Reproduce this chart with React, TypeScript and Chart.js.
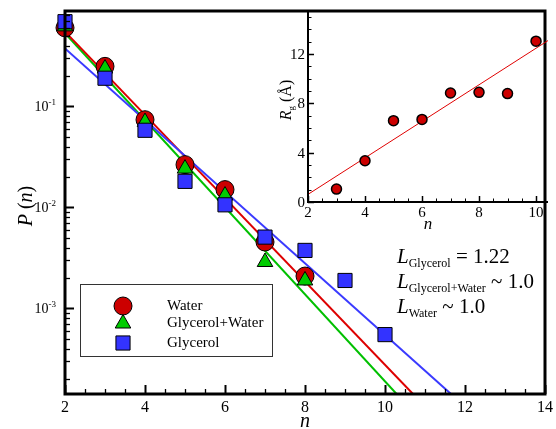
import React, { useEffect, useRef } from 'react';
import { Chart, registerables } from 'chart.js';
Chart.register(...registerables);

// ---- main chart data ----
const waterN = [2, 3, 4, 5, 6, 7, 8];
const waterP = [0.6, 0.249, 0.0738, 0.0265, 0.015, 0.00454, 0.00209];
const glyWaterN = [2, 3, 4, 5, 6, 7, 8];
const glyWaterP = [0.62, 0.237, 0.07, 0.0242, 0.0131, 0.00288, 0.00189];
const glycerolN = [2, 3, 4, 5, 6, 7, 8, 9, 10];
const glycerolP = [0.69, 0.19, 0.058, 0.0181, 0.0106, 0.00508, 0.00375, 0.00189, 0.00055];

const waterFitN = [2, 10.7];
const waterFitP = [0.55, 1.42e-4];
const glyWaterFitN = [2, 10.29];
const glyWaterFitP = [0.53, 1.42e-4];
const glycerolFitN = [2, 11.65];
const glycerolFitP = [0.375, 1.42e-4];

const xTicks = [2, 4, 6, 8, 10, 12, 14];
const yDecades = [-1, -2, -3];
const legendLabels = ['Water', 'Glycerol+Water', 'Glycerol'];

// ---- inset data ----
const insetN = [3, 4, 5, 6, 7, 8, 9, 10];
const insetRg = [1.05, 3.35, 6.6, 6.7, 8.85, 8.9, 8.8, 13.05];
const insetFitN = [2, 10.42];
const insetFitRg = [0.62, 13.1];
const insetXTicks = [2, 4, 6, 8, 10];
const insetYTicks = [0, 4, 8, 12];

const SERIF = '"Liberation Serif", "Times New Roman", serif';
const RED = '#cc0000';
const GREEN = '#00cc00';
const BLUE = '#3333ff';

const pts = (xs: number[], ys: number[]) => xs.map((x, i) => ({ x, y: ys[i] }));

type Part = { t: string; f: string; dy?: number };
function drawParts(ctx: CanvasRenderingContext2D, parts: Part[], x: number, y: number, align: 'left' | 'right' | 'center') {
  let total = 0;
  for (const p of parts) { ctx.font = p.f; total += ctx.measureText(p.t).width; }
  let cx = align === 'left' ? x : align === 'right' ? x - total : x - total / 2;
  ctx.textAlign = 'left';
  ctx.textBaseline = 'alphabetic';
  for (const p of parts) {
    ctx.font = p.f;
    ctx.fillText(p.t, cx, y + (p.dy || 0));
    cx += ctx.measureText(p.t).width;
  }
}

function drawMarker(ctx: CanvasRenderingContext2D, kind: string, x: number, y: number, r: number, fill: string) {
  ctx.beginPath();
  if (kind === 'circle') ctx.arc(x, y, r, 0, Math.PI * 2);
  else if (kind === 'triangle') {
    for (let i = 0; i < 3; i++) {
      const a = -Math.PI / 2 + i * (2 * Math.PI / 3);
      const px = x + Math.cos(a) * r, py = y + Math.sin(a) * r;
      if (i === 0) ctx.moveTo(px, py); else ctx.lineTo(px, py);
    }
    ctx.closePath();
  } else {
    const s = r / Math.SQRT2;
    ctx.rect(x - s, y - s, 2 * s, 2 * s);
  }
  ctx.fillStyle = fill;
  ctx.fill();
  ctx.lineWidth = 1;
  ctx.strokeStyle = '#000';
  ctx.stroke();
}

const mainPlugin = {
  id: 'mainDecor',
  afterDatasetsDraw(chart: any) {
    const ctx: CanvasRenderingContext2D = chart.ctx;
    const ca = chart.chartArea;
    const xs = chart.scales.x;
    const ys = chart.scales.y;
    ctx.save();
    ctx.strokeStyle = '#000';
    ctx.fillStyle = '#000';
    // x ticks
    for (let v = xs.min; v <= xs.max + 1e-9; v += 0.5) {
      const px = Math.round(xs.getPixelForValue(v)) + 0.5;
      const major = Math.abs(v % 2) < 1e-9;
      ctx.lineWidth = major ? 2 : 1.3;
      ctx.beginPath();
      ctx.moveTo(px, ca.bottom);
      ctx.lineTo(px, ca.bottom - (major ? 9 : 5));
      ctx.stroke();
    }
    // y ticks
    for (let d = -5; d <= 0; d++) {
      for (let m = 1; m <= 9; m++) {
        const val = m * Math.pow(10, d);
        if (val < ys.min || val > ys.max) continue;
        const py = Math.round(ys.getPixelForValue(val)) + 0.5;
        ctx.lineWidth = m === 1 ? 2 : 1.3;
        ctx.beginPath();
        ctx.moveTo(ca.left, py);
        ctx.lineTo(ca.left + (m === 1 ? 9 : 5), py);
        ctx.stroke();
      }
    }
    // frame
    ctx.lineWidth = 3;
    ctx.strokeRect(ca.left, ca.top, ca.right - ca.left, ca.bottom - ca.top);
    // x tick labels
    ctx.font = `16px ${SERIF}`;
    ctx.textAlign = 'center';
    ctx.textBaseline = 'alphabetic';
    for (const t of xTicks) {
      ctx.fillText(String(t), xs.getPixelForValue(t), ca.bottom + 18);
    }
    // y tick labels
    for (const d of yDecades) {
      const py = ys.getPixelForValue(Math.pow(10, d));
      drawParts(ctx, [
        { t: '10', f: `14px ${SERIF}` },
        { t: String(d), f: `9px ${SERIF}`, dy: -6 },
      ], ca.left - 9, py + 5, 'right');
    }
    // x title
    ctx.textAlign = 'center';
    ctx.font = `italic 20px ${SERIF}`;
    ctx.fillText('n', (ca.left + ca.right) / 2, 427);
    // y title
    ctx.save();
    ctx.translate(32, 206);
    ctx.rotate(-Math.PI / 2);
    drawParts(ctx, [
      { t: 'P', f: `italic 20px ${SERIF}` },
      { t: ' (', f: `20px ${SERIF}` },
      { t: 'n', f: `italic 20px ${SERIF}` },
      { t: ')', f: `20px ${SERIF}` },
    ], 0, 0, 'center');
    ctx.restore();
    // legend
    ctx.lineWidth = 1;
    ctx.strokeStyle = '#333';
    ctx.strokeRect(80.5, 284.5, 192, 72);
    const kinds = ['circle', 'triangle', 'rect'];
    const fills = [RED, GREEN, BLUE];
    const radii = [9, 9, 10];
    const rows = [306, 323.5, 343];
    for (let i = 0; i < 3; i++) {
      drawMarker(ctx, kinds[i], 123, rows[i], radii[i], fills[i]);
      ctx.fillStyle = '#000';
      ctx.font = `15px ${SERIF}`;
      ctx.textAlign = 'left';
      ctx.textBaseline = 'middle';
      ctx.fillText(legendLabels[i], 167, rows[i]);
    }
    // annotations
    ctx.fillStyle = '#000';
    const big = `21px ${SERIF}`;
    const bigI = `italic 21px ${SERIF}`;
    const sub = `12px ${SERIF}`;
    drawParts(ctx, [
      { t: 'L', f: bigI }, { t: 'Glycerol', f: sub, dy: 4 }, { t: ' = 1.22', f: big },
    ], 397, 263, 'left');
    drawParts(ctx, [
      { t: 'L', f: bigI }, { t: 'Glycerol+Water', f: sub, dy: 4 }, { t: ' ~ 1.0', f: big },
    ], 397, 288, 'left');
    drawParts(ctx, [
      { t: 'L', f: bigI }, { t: 'Water', f: sub, dy: 4 }, { t: ' ~ 1.0', f: big },
    ], 397, 313, 'left');
    ctx.restore();
  },
};

const insetPlugin = {
  id: 'insetDecor',
  afterDatasetsDraw(chart: any) {
    const ctx: CanvasRenderingContext2D = chart.ctx;
    const ca = chart.chartArea;
    const xs = chart.scales.x;
    const ys = chart.scales.y;
    ctx.save();
    ctx.strokeStyle = '#000';
    ctx.fillStyle = '#000';
    for (let v = 2; v <= xs.max + 1e-9; v += 0.5) {
      const px = Math.round(xs.getPixelForValue(v)) + 0.5;
      const major = Math.abs(v % 2) < 1e-9;
      ctx.lineWidth = major ? 1.5 : 1;
      ctx.beginPath();
      ctx.moveTo(px, ca.bottom);
      ctx.lineTo(px, ca.bottom - (major ? 6 : 3.5));
      ctx.stroke();
    }
    for (let v = 0; v <= ys.max + 1e-9; v += 1) {
      const py = Math.round(ys.getPixelForValue(v)) + 0.5;
      const major = v % 4 === 0;
      ctx.lineWidth = major ? 1.5 : 1;
      ctx.beginPath();
      ctx.moveTo(ca.left, py);
      ctx.lineTo(ca.left + (major ? 6 : 3.5), py);
      ctx.stroke();
    }
    ctx.lineWidth = 2;
    ctx.beginPath();
    ctx.moveTo(ca.left, ca.top);
    ctx.lineTo(ca.left, ca.bottom);
    ctx.lineTo(ca.right, ca.bottom);
    ctx.stroke();
    ctx.font = `15px ${SERIF}`;
    ctx.textAlign = 'center';
    ctx.textBaseline = 'alphabetic';
    for (const t of insetXTicks) ctx.fillText(String(t), xs.getPixelForValue(t), ca.bottom + 15);
    ctx.textAlign = 'right';
    ctx.textBaseline = 'middle';
    for (const t of insetYTicks) ctx.fillText(String(t), ca.left - 3, ys.getPixelForValue(t) + 1);
    ctx.textAlign = 'center';
    ctx.textBaseline = 'alphabetic';
    ctx.font = `italic 17px ${SERIF}`;
    ctx.fillText('n', (ca.left + ca.right) / 2, 229);
    ctx.save();
    ctx.translate(291, 100);
    ctx.rotate(-Math.PI / 2);
    drawParts(ctx, [
      { t: 'R', f: `italic 16px ${SERIF}` },
      { t: 'g', f: `9px ${SERIF}`, dy: 3 },
      { t: ' (Å)', f: `16px ${SERIF}` },
    ], 0, 0, 'center');
    ctx.restore();
    ctx.restore();
  },
};

export default function App() {
  const mainRef = useRef<HTMLCanvasElement>(null);
  const insetRef = useRef<HTMLCanvasElement>(null);

  useEffect(() => {
    const main = new Chart(mainRef.current!, {
      type: 'scatter',
      data: {
        datasets: [
          { label: 'Glycerol', data: pts(glycerolN, glycerolP), pointStyle: 'rect', pointRadius: 10, backgroundColor: BLUE, borderColor: '#000', borderWidth: 1, order: 1, clip: false } as any,
          { label: 'Glycerol+Water', data: pts(glyWaterN, glyWaterP), pointStyle: 'triangle', pointRadius: 9, backgroundColor: GREEN, borderColor: '#000', borderWidth: 1, order: 2, clip: false } as any,
          { label: 'Water', data: pts(waterN, waterP), pointStyle: 'circle', pointRadius: 9, backgroundColor: RED, borderColor: '#000', borderWidth: 1, order: 3, clip: false } as any,
          { label: 'fitG', data: pts(glycerolFitN, glycerolFitP), showLine: true, pointRadius: 0, borderColor: '#3a3aff', borderWidth: 2, order: 4 } as any,
          { label: 'fitW', data: pts(waterFitN, waterFitP), showLine: true, pointRadius: 0, borderColor: '#dd0000', borderWidth: 2, order: 5 } as any,
          { label: 'fitGW', data: pts(glyWaterFitN, glyWaterFitP), showLine: true, pointRadius: 0, borderColor: '#00c000', borderWidth: 2, order: 6 } as any,
        ],
      },
      options: {
        responsive: false,
        animation: false,
        layout: { padding: { left: 65, top: 11, right: 6, bottom: 35 } },
        plugins: { legend: { display: false }, tooltip: { enabled: false } },
        events: [],
        scales: {
          x: { type: 'linear', min: 2, max: 14, display: false },
          y: { type: 'logarithmic', min: 1.42e-4, max: 0.88, display: false },
        },
      },
      plugins: [mainPlugin],
    });
    const inset = new Chart(insetRef.current!, {
      type: 'scatter',
      data: {
        datasets: [
          { label: 'Rg', data: pts(insetN, insetRg), pointStyle: 'circle', pointRadius: 5, backgroundColor: RED, borderColor: '#000', borderWidth: 1.5, order: 1, clip: false } as any,
          { label: 'fit', data: pts(insetFitN, insetFitRg), showLine: true, pointRadius: 0, borderColor: '#e00000', borderWidth: 1, order: 2 } as any,
        ],
      },
      options: {
        responsive: false,
        animation: false,
        layout: { padding: { left: 308, top: 11, right: 8, bottom: 227 } },
        plugins: { legend: { display: false }, tooltip: { enabled: false } },
        events: [],
        scales: {
          x: { type: 'linear', min: 2, max: 10.42, display: false },
          y: { type: 'linear', min: 0, max: 15.5, display: false },
        },
      },
      plugins: [insetPlugin],
    });
    return () => { main.destroy(); inset.destroy(); };
  }, []);

  return (
    <div style={{ position: 'fixed', left: 0, top: 0, width: 556, height: 429, background: '#fff' }}>
      <canvas ref={mainRef} width={556} height={429} style={{ position: 'absolute', left: 0, top: 0, width: 556, height: 429 }} />
      <canvas ref={insetRef} width={556} height={429} style={{ position: 'absolute', left: 0, top: 0, width: 556, height: 429 }} />
    </div>
  );
}
